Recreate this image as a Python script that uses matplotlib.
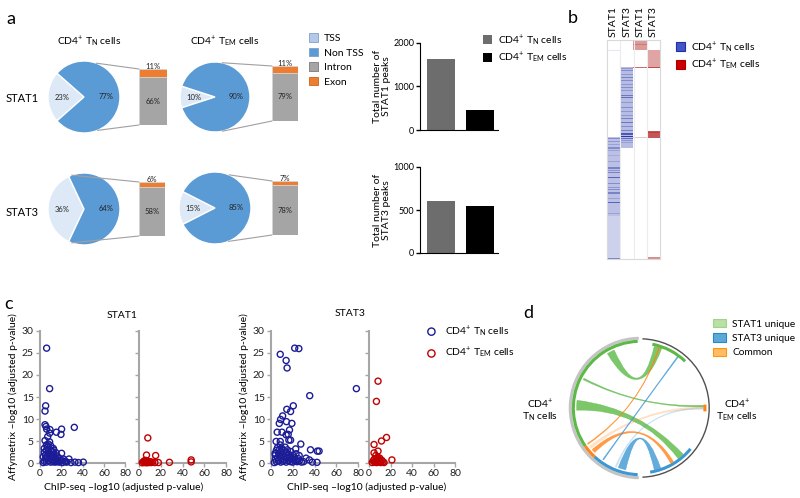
import numpy as np
import matplotlib.pyplot as plt
from matplotlib.patches import Patch, Wedge, Arc, PathPatch, ConnectionPatch
from matplotlib.path import Path

plt.rcParams['font.family'] = ['Lato', 'DejaVu Sans']
plt.rcParams['mathtext.fontset'] = 'custom'
plt.rcParams['mathtext.rm'] = 'Lato'
plt.rcParams['mathtext.it'] = 'Lato:italic'
plt.rcParams['mathtext.bf'] = 'Lato:bold'

W, H = 800, 498

# ---------------- data ----------------
# panel a: pies (TSS / non TSS) and bar of pie (intron / exon)
pie_rows = ['STAT1', 'STAT3']
cell_titles = ['CD4$^{+}$ T$_{\\mathrm{N}}$ cells', 'CD4$^{+}$ T$_{\\mathrm{EM}}$ cells']
tss = [[23, 10], [36, 15]]
non_tss = [[77, 90], [64, 85]]
exon = [[11, 11], [6, 7]]
intron = [[66, 79], [58, 78]]
region_labels = ['TSS', 'Non TSS', 'Intron', 'Exon']

# panel a: total peak numbers
stat1_peaks = [1630, 460]
stat3_peaks = [600, 550]

# panel b: heatmap bands (column, first row, last row, intensity)
heat_labels = ['STAT1', 'STAT3', 'STAT1', 'STAT3']
heat_nrows = 219
heat_bands = [
    (0, 10, 11, 0.12), (0, 97, 176, 0.30), (0, 176, 218, 0.22),
    (0, 98, 99, 0.55), (0, 101, 102, 0.5), (0, 104, 105, 0.45), (0, 107, 109, 0.55),
    (0, 110, 111, 0.45), (0, 115, 116, 0.4), (0, 121, 122, 0.45), (0, 127, 129, 0.6),
    (0, 130, 131, 0.5), (0, 132, 133, 0.6), (0, 137, 138, 0.75), (0, 143, 144, 0.55),
    (0, 147, 148, 0.5), (0, 149, 150, 0.55), (0, 152, 154, 0.6), (0, 158, 159, 0.45),
    (0, 162, 163, 0.75), (0, 173, 174, 0.45), (0, 218, 219, 0.6),
    (1, 27, 108, 0.32),
    (1, 28, 29, 0.5), (1, 30, 31, 0.55), (1, 34, 35, 0.5), (1, 37, 38, 0.6),
    (1, 40, 41, 0.55), (1, 44, 45, 0.5), (1, 47, 48, 0.55), (1, 50, 51, 0.5),
    (1, 55, 56, 0.65), (1, 57, 58, 0.7), (1, 62, 63, 0.5), (1, 67, 68, 0.55),
    (1, 71, 72, 0.5), (1, 75, 76, 0.5), (1, 78, 79, 0.6), (1, 82, 83, 0.65),
    (1, 86, 87, 0.55), (1, 90, 91, 0.6), (1, 93, 95, 0.8), (1, 96, 97, 0.95),
    (1, 98, 99, 0.7), (1, 100, 101, 0.5), (1, 102, 103, 0.45),
    (2, 0, 10, 0.45), (2, 4, 5, 0.6), (2, 27, 28, 0.65), (2, 97, 98, 0.25),
    (3, 10, 27, 0.4), (3, 27, 28, 0.8), (3, 91, 98, 0.75), (3, 92, 93, 0.85),
    (3, 217, 219, 0.5),
]

# panel c: ChIP-seq vs Affymetrix -log10(adj p)
stat1_tn = [(6.2, 26.1), (9.0, 16.9), (5.3, 13.0), (4.7, 11.8), (4.7, 8.7), (5.6, 8.3),
            (6.2, 7.7), (9.3, 7.6), (9.0, 6.8), (15.3, 7.0), (20.2, 7.7), (19.6, 6.5),
            (32.1, 8.1), (4.7, 5.1), (7.2, 6.0), (7.8, 4.3), (12.5, 3.3), (4.0, 2.4),
            (20.2, 2.2), (27.1, 0.9), (40.5, 0.2), (32.7, 0.2), (19.6, 0.5), (14.0, 1.3),
            (10.9, 2.8), (24, 0.3), (29, 0.1), (36, 0.1),
            (3, 0.1), (4, 0.4), (5, 0.9), (5, 1.8), (6, 0.2), (6, 2.9), (7, 1.3), (7, 3.6),
            (8, 0.5), (8, 2.1), (9, 1.0), (9, 4.8), (10, 0.2), (10, 1.7), (11, 0.8), (11, 2.5),
            (12, 0.3), (12, 1.4), (13, 0.6), (13, 2.0), (14, 0.2), (15, 0.9), (16, 0.3),
            (16, 1.6), (17, 0.6), (18, 0.2), (18, 1.1), (20, 0.6), (21, 0.1), (22, 0.9),
            (23, 0.4), (25, 0.2), (4, 3.3), (6, 4.1), (3, 1.4), (8, 3.0), (10, 3.9),
            (13, 2.9), (15, 2.3)]
stat1_tem = [(8.1, 5.7), (6.9, 1.8), (15.3, 1.7), (28, 0.15), (48, 0.7), (48, 0.25),
             (3, 0.05), (4, 0.3), (5, 0.1), (5, 0.5), (6, 0.2), (7, 0.4), (7, 0.05),
             (8, 0.3), (9, 0.1), (10, 0.3), (11, 0.1), (12, 0.2), (14.6, 0.1), (17.8, 0.1),
             (6, 0.6)]
stat3_tn = [(8.5, 24.7), (21.8, 26.1), (25.6, 26.0), (13.9, 23.3), (14.8, 21.6),
            (78.5, 16.9), (35.6, 15.3), (20.5, 13.0), (10.7, 10.7), (14.5, 12.2),
            (18.0, 11.7), (8.8, 9.9), (7.6, 9.0), (14.2, 9.4), (19.2, 9.0), (5.7, 7.0),
            (10.1, 7.0), (13.9, 6.4), (17.0, 7.5), (15.8, 6.5), (16.4, 5.2), (18.0, 5.2),
            (4.7, 4.9), (8.5, 4.9), (8.5, 4.1), (27.4, 4.3), (36.3, 3.0), (42.6, 2.7),
            (44.2, 2.7), (3.8, 2.2), (22.7, 3.2), (25.9, 1.7), (32.2, 1.1), (35.3, 0.7),
            (42.3, 0.15), (30, 0.3), (38, 0.2),
            (3, 0.1), (4, 0.9), (4, 1.8), (5, 0.3), (5, 2.9), (6, 1.2), (6, 3.5), (7, 0.5),
            (7, 2.2), (8, 1.5), (8, 3.1), (9, 0.2), (9, 2.5), (10, 1.0), (10, 3.3), (11, 0.4),
            (11, 1.9), (12, 2.8), (12, 0.8), (13, 1.4), (13, 3.6), (14, 0.2), (14, 2.3),
            (15, 1.1), (15, 3.0), (16, 0.5), (16, 2.0), (17, 1.3), (18, 0.3), (18, 2.6),
            (19, 0.9), (20, 1.8), (20, 0.2), (21, 1.2), (22, 0.5), (23, 2.1), (24, 0.3),
            (25, 1.0), (26, 0.5), (28, 0.2)]
stat3_tem = [(8.4, 18.6), (6.9, 14.0), (16.3, 5.8), (11.6, 5.0), (4.7, 4.2), (4.7, 2.3),
             (8.4, 2.7), (21.3, 0.7), (6.3, 1.7), (3, 0.1), (4, 0.5), (5, 0.2), (5, 0.9),
             (6, 0.4), (7, 0.1), (7, 1.0), (8, 0.5), (9, 0.2), (9, 0.9), (10, 0.4), (11, 0.1),
             (12, 0.6), (13, 0.2), (14, 0.1), (8, 1.3), (10, 1.1)]

# panel d: circos ring segments (degrees) and chords
chord_kinds = ['STAT1 unique', 'STAT3 unique', 'Common']
tn_segments = [('STAT1 unique', 92, 215), ('Common', 215, 227), ('STAT3 unique', 227, 268)]
tem_segments = [('STAT1 unique', 46, 79), ('Common', -3, 3), ('STAT3 unique', 279, 321)]
chords = [  # TN side (a1, a2) -> TEM side (b1, b2), kind, faint
    (114, 121, 70, 77, 'STAT1 unique', False),
    (152, 153.5, 1, 2.5, 'STAT1 unique', False),
    (173, 182, 307, 313, 'STAT1 unique', False),
    (214, 215, 72, 73, 'Common', False),
    (217, 219.5, -1, 1.5, 'Common', True),
    (221, 224.5, 299, 302, 'Common', False),
    (234, 235, 53, 54, 'STAT3 unique', False),
    (247, 248.5, -1, 0.5, 'STAT3 unique', True),
    (250, 257, 283, 289, 'STAT3 unique', False),
]

# ---------------- styling ----------------
c_tss, c_nontss = '#dde9f6', '#5b9bd5'
c_intron, c_exon = '#a5a5a5', '#ed7d31'
c_tn_bar, c_tem_bar = '#6d6d6d', '#000000'
c_blue_pt, c_red_pt = '#1c1c96', '#c00000'
kind_color = {'STAT1 unique': '#5cb946', 'STAT3 unique': '#3d97d3', 'Common': '#ff8418'}

fig = plt.figure(figsize=(W / 100, H / 100), dpi=100)


def px_axes(x0, y0, x1, y1, **kw):
    return fig.add_axes([x0 / W, 1 - y1 / H, (x1 - x0) / W, (y1 - y0) / H], **kw)


# ---------------- panel a: pies + bar of pie ----------------
pie_geom = [[(84, 97, 36), (215, 97, 35)], [(84, 209, 36), (215, 208, 36)]]
bar_geom = [[(139, 69, 167, 125), (272, 66, 298, 121)],
            [(139, 182, 165, 236), (272, 181, 298, 235)]]
link_angles = [[(70, -68), (78, -78)], [(110, -110), (67, -68)]]

for i in range(2):
    for j in range(2):
        cx, cy, r = pie_geom[i][j]
        pa = px_axes(cx - r * 1.02, cy - r * 1.02, cx + r * 1.02, cy + r * 1.02)
        pa.pie([tss[i][j], non_tss[i][j]], colors=[c_tss, c_nontss],
               startangle=180 - tss[i][j] * 1.8, autopct=lambda p: f'{p:.0f}%',
               pctdistance=0.6, wedgeprops=dict(edgecolor='white', linewidth=1),
               textprops=dict(fontsize=5.5, color='#222222'))
        pa.set_xlim(-1.02, 1.02)
        pa.set_ylim(-1.02, 1.02)

        x0, y0, x1, y1 = bar_geom[i][j]
        ba = px_axes(x0, y0, x1, y1)
        total = intron[i][j] + exon[i][j]
        ba.bar(0, intron[i][j], width=1, color=c_intron, edgecolor='#d4d4d4', lw=0.6)
        ba.bar(0, exon[i][j], bottom=intron[i][j], width=1, color=c_exon,
               edgecolor='#d4d4d4', lw=0.6)
        ba.set_xlim(-0.5, 0.5)
        ba.set_ylim(0, total)
        ba.axis('off')
        ba.text(0, intron[i][j] / 2, f'{intron[i][j]}%', ha='center', va='center',
                fontsize=5.5, color='#222222')
        ba.annotate(f'{exon[i][j]}%', (0, total), xytext=(0, 1.5), textcoords='offset points',
                    ha='center', va='center', fontsize=5.5, color='#222222',
                    annotation_clip=False)

        for ang, yb in zip(link_angles[i][j], [total, 0]):
            t = np.radians(ang)
            con = ConnectionPatch(xyA=(np.cos(t), np.sin(t)), coordsA=pa.transData,
                                  xyB=(-0.5, yb), coordsB=ba.transData,
                                  color='#a0a0a0', lw=0.8)
            fig.add_artist(con)

# total number of peaks
for vals, (y0, y1), ymax, name in [(stat1_peaks, (43, 130), 2000, 'STAT1'),
                                   (stat3_peaks, (167, 253), 1000, 'STAT3')]:
    ax = px_axes(420, y0, 498, y1)
    ax.bar([0, 1], vals, width=0.72, color=[c_tn_bar, c_tem_bar])
    ax.set_xlim(-0.54, 1.46)
    ax.set_ylim(0, ymax)
    ax.set_yticks([0, ymax // 2, ymax])
    ax.set_xticks([])
    for s in ['top', 'right']:
        ax.spines[s].set_visible(False)
    ax.tick_params(axis='y', length=3, width=1, labelsize=6.5, pad=1)
    ax.set_ylabel(f'Total number of\n{name} peaks', fontsize=7.5, labelpad=2,
                  linespacing=1.0)

fig.legend([Patch(facecolor=c_tn_bar), Patch(facecolor=c_tem_bar)], cell_titles,
           loc='upper left', bbox_to_anchor=(483 / W, 1 - 33 / H), frameon=False,
           fontsize=7.5, handlelength=0.9, handleheight=0.9, handletextpad=0.5,
           labelspacing=0.3, borderaxespad=0, borderpad=0)

fig.legend([Patch(facecolor=c, edgecolor='#7f9fc8', lw=0.6)
            for c in ['#b4c9e8', c_nontss]] +
           [Patch(facecolor=c_intron, edgecolor='#7a7a7a', lw=0.6),
            Patch(facecolor=c_exon, edgecolor='#c86420', lw=0.6)],
           region_labels, loc='upper left', bbox_to_anchor=(309 / W, 1 - 33 / H),
           frameon=False, fontsize=7.5, handlelength=0.9, handleheight=0.9,
           handletextpad=0.5, labelspacing=0.45, borderaxespad=0, borderpad=0)

# ---------------- panel b: heatmap ----------------
heat = np.zeros((heat_nrows, 4))
for col, r0, r1, v in heat_bands:
    heat[r0:r1, col] = v
blue = np.array([31, 47, 168]) / 255
red = np.array([178, 30, 30]) / 255
rgb = np.ones((heat_nrows, 4, 3))
for col in range(4):
    base = blue if col < 2 else red
    rgb[:, col, :] = 1 - heat[:, col][:, None] * (1 - base)[None, :]
hx = px_axes(607, 40, 660, 259)
hx.imshow(rgb, aspect='auto', interpolation='nearest', extent=(0, 4, heat_nrows, 0))
hx.vlines([1, 2, 3], 0, heat_nrows, color='#ececec', lw=0.8)
for s in hx.spines.values():
    s.set_color('#d9d9d9')
hx.xaxis.tick_top()
hx.set_xticks([0.5, 1.5, 2.5, 3.5])
hx.set_xticklabels(heat_labels, rotation=90, fontsize=7.5)
hx.set_yticks([])
hx.tick_params(axis='x', length=0, pad=2)

fig.legend([Patch(facecolor='#4455c8', edgecolor='#1f2fa8', lw=0.8),
            Patch(facecolor='#cc0000', edgecolor='#aa0000', lw=0.8)], cell_titles,
           loc='upper left', bbox_to_anchor=(676 / W, 1 - 40 / H), frameon=False,
           fontsize=7.5, handlelength=0.9, handleheight=0.9, handletextpad=0.5,
           labelspacing=0.3, borderaxespad=0, borderpad=0)

# ---------------- panel c: scatter ----------------
scatter_axes = [(40, 125.5, stat1_tn, c_blue_pt, True), (139, 226, stat1_tem, c_red_pt, False),
                (271, 358, stat3_tn, c_blue_pt, True), (369, 455, stat3_tem, c_red_pt, False)]
handles = []
for x0, x1, pts, col, first in scatter_axes:
    ax = px_axes(x0, 331, x1, 463)
    pts = np.array(pts)
    h = ax.scatter(pts[:, 0], pts[:, 1], s=19, facecolors='none', edgecolors=col,
                   linewidths=1.0, clip_on=False, zorder=3)
    handles.append(h)
    ax.set_xlim(0, 80)
    ax.set_ylim(0, 30)
    ax.set_xticks([0, 20, 40, 60, 80])
    ax.set_yticks([0, 5, 10, 15, 20, 25, 30])
    for s in ['top', 'right']:
        ax.spines[s].set_visible(False)
    for s in ['left', 'bottom']:
        ax.spines[s].set_color('#a6a6a6')
        ax.spines[s].set_linewidth(1.5)
    ax.tick_params(length=3, width=1, color='#a6a6a6', labelsize=7.5, pad=1.5,
                   labelcolor='#222222')
    if first:
        ax.set_ylabel('Affymetrix \u2013log10 (adjusted p-value)', fontsize=7.5, labelpad=3)
    else:
        ax.set_yticklabels([])

fig.legend(handles[2:4], cell_titles, loc='upper left',
           bbox_to_anchor=(421 / W, 1 - 324 / H), frameon=False, fontsize=7.5,
           handletextpad=0.3, labelspacing=0.7, markerscale=1.2, borderaxespad=0,
           borderpad=0)

# ---------------- panel d: circos ----------------
dx = px_axes(565, 333, 715, 483)
dx.set_xlim(-1.1, 1.1)
dx.set_ylim(-1.1, 1.1)
dx.set_aspect('equal')
dx.axis('off')

dx.add_patch(Wedge((0, 0), 1.045, 91, 269, width=0.045, color='#c4c4c4', lw=0))
dx.add_patch(Arc((0, 0), 2.03, 2.03, theta1=-88, theta2=88, color='#505050', lw=1))
for kind, t1, t2 in tn_segments:
    dx.add_patch(Wedge((0, 0), 1.0, t1, t2, width=0.045, color=kind_color[kind], lw=0))
for kind, t1, t2 in tem_segments:
    dx.add_patch(Wedge((0, 0), 0.975, t1, t2, width=0.045, color=kind_color[kind], lw=0))


def ribbon(a1, a2, b1, b2, r=0.93):
    ta = np.radians(np.linspace(a1, a2, 12))
    tb = np.radians(np.linspace(b1, b2, 12))
    pa_ = np.c_[r * np.cos(ta), r * np.sin(ta)]
    pb_ = np.c_[r * np.cos(tb), r * np.sin(tb)]
    verts = list(pa_) + [(0, 0), pb_[0]] + list(pb_[1:]) + [(0, 0), pa_[0], (0, 0)]
    codes = ([Path.MOVETO] + [Path.LINETO] * 11 + [Path.CURVE3] * 2 +
             [Path.LINETO] * 11 + [Path.CURVE3] * 2 + [Path.CLOSEPOLY])
    return Path(verts, codes)


for a1, a2, b1, b2, kind, faint in chords:
    c = kind_color[kind]
    dx.add_patch(PathPatch(ribbon(a1, a2, b1, b2), facecolor=c, edgecolor=c, lw=0.3,
                           alpha=0.22 if faint else 0.8))

fig.legend([Patch(facecolor='#b9e0a5', edgecolor='#a3d28c', lw=0.8),
            Patch(facecolor='#5aaad8', edgecolor='#2f86c2', lw=0.8),
            Patch(facecolor='#ffbb66', edgecolor='#ff9900', lw=0.8)], chord_kinds,
           loc='upper left', bbox_to_anchor=(713 / W, 1 - 319 / H), frameon=False,
           fontsize=7.3, handlelength=1.3, handleheight=0.9, handletextpad=0.6,
           labelspacing=0.45, borderaxespad=0, borderpad=0)

# ---------------- free text ----------------
cv = fig.add_axes([0, 0, 1, 1], zorder=10)
cv.set_xlim(0, W)
cv.set_ylim(H, 0)
cv.axis('off')

for lab, x, y in [('a', 11, 19), ('b', 573, 18), ('c', 9, 304), ('d', 528, 313)]:
    cv.text(x, y, lab, fontsize=13, ha='center', va='center')
cv.text(89, 42, cell_titles[0], fontsize=7.5, ha='center', va='center')
cv.text(225, 42, cell_titles[1], fontsize=7.5, ha='center', va='center')
cv.text(6, 98, pie_rows[0], fontsize=8, ha='left', va='center')
cv.text(6, 212, pie_rows[1], fontsize=8, ha='left', va='center')
cv.text(122, 315, 'STAT1', fontsize=7.5, ha='center', va='center')
cv.text(350, 313, 'STAT3', fontsize=7.5, ha='center', va='center')
cv.text(124, 487, 'ChIP-seq \u2013log10 (adjusted p-value)', fontsize=7.5, ha='center', va='center')
cv.text(367, 487, 'ChIP-seq \u2013log10 (adjusted p-value)', fontsize=7.5, ha='center', va='center')
cv.text(540, 404, 'CD4$^{+}$', fontsize=7.5, ha='center', va='center')
cv.text(540, 417, 'T$_{\\mathrm{N}}$ cells', fontsize=7.5, ha='center', va='center')
cv.text(737, 404, 'CD4$^{+}$', fontsize=7.5, ha='center', va='center')
cv.text(737, 417, 'T$_{\\mathrm{EM}}$ cells', fontsize=7.5, ha='center', va='center')

fig.savefig('out.png', dpi=100)
